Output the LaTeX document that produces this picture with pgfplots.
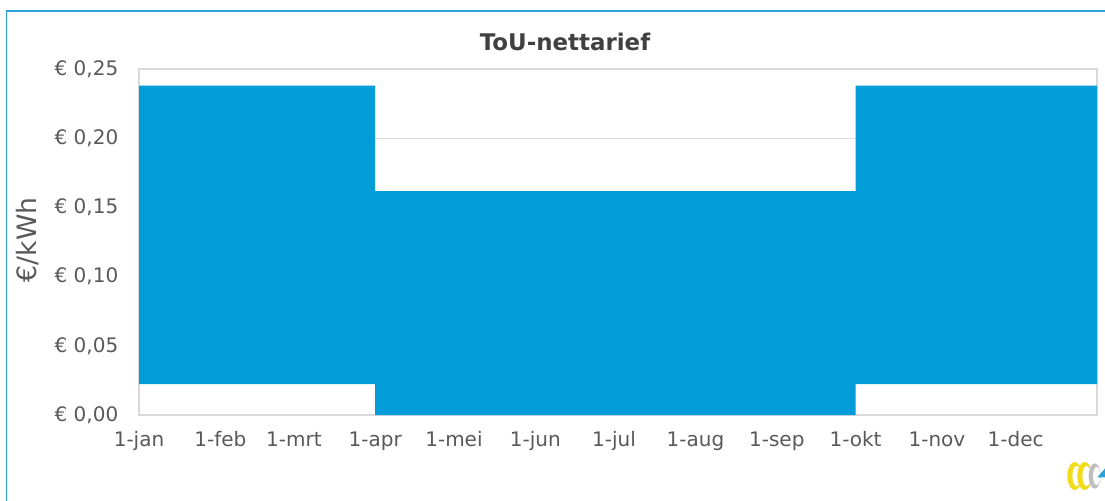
\documentclass[border=0pt]{standalone}
\usepackage{pgfplots}
\pgfplotsset{compat=1.18}
\usepackage{fontspec}
\setmainfont{DejaVu Sans}
\definecolor{barblue}{HTML}{009DD9}
\definecolor{txtgray}{HTML}{595959}
\definecolor{titlegray}{HTML}{404040}
\definecolor{gridgray}{HTML}{D9D9D9}
\definecolor{frameblue}{HTML}{2AA3D6}
\definecolor{logoyellow}{HTML}{F2DC1A}
\definecolor{logogray}{HTML}{BFBFBF}
\begin{document}
\begin{tikzpicture}
\path[use as bounding box] (0,0) rectangle (828.75pt,375pt);
\draw[frameblue, line width=1pt] (4.9pt,-5pt) -- (4.9pt,366.8pt) -- (840pt,366.8pt);
\begin{axis}[
  at={(104.25pt,63.75pt)}, anchor=south west,
  scale only axis, width=718.5pt, height=259.5pt,
  xmin=0, xmax=365, ymin=0, ymax=0.25,
  xtick={0,31,59,90,120,151,181,212,243,273,304,334},
  xticklabels={1-jan,1-feb,1-mrt,1-apr,1-mei,1-jun,1-jul,1-aug,1-sep,1-okt,1-nov,1-dec},
  ytick={0,0.05,0.1,0.15,0.2,0.25},
  yticklabels={{€ 0,00},{€ 0,05},{€ 0,10},{€ 0,15},{€ 0,20},{€ 0,25}},
  major tick length=0pt,
  ymajorgrids, grid style={gridgray, line width=1pt},
  axis line style={gridgray, line width=1pt},
  tick label style={font=\fontsize{15}{18}\selectfont, text=txtgray},
  yticklabel style={xshift=-12pt},
  xticklabel style={yshift=-9pt},
  stack plots=y,
]
% off-peak (lower) level
\addplot[draw=none] coordinates {
  (0,0.0224) (90,0.0224) (90,0) (273,0) (273,0.0224) (365,0.0224)};
% peak minus off-peak
\addplot[fill=barblue, draw=none] coordinates {
  (0,0.2155) (90,0.2155) (90,0.1618) (273,0.1618) (273,0.2155) (365,0.2155)} \closedcycle;
\end{axis}
\node[text=titlegray, font=\fontsize{17.2}{20}\selectfont\bfseries] at (423.75pt,343.5pt) {ToU-nettarief};
\node[text=txtgray, font=\fontsize{20}{24}\selectfont, rotate=90] at (21pt,195pt) {€/kWh};
% logo
\begin{scope}[shift={(806pt,18pt)}]
\fill[logoyellow] (0,0) ellipse (5.5pt and 10.5pt);
\fill[white] (1.5pt,0) ellipse (3.2pt and 7.5pt);
\fill[logoyellow] (7.5pt,0) ellipse (5.5pt and 10.5pt);
\fill[white] (9pt,0) ellipse (3.2pt and 7.5pt);
\fill[logogray] (15pt,0) ellipse (4.5pt and 9.5pt);
\fill[white] (16.5pt,0) ellipse (2.7pt and 6.8pt);
\fill[frameblue] (17pt,-1pt) -- (23pt,-1pt) -- (23pt,6pt) -- cycle;
\end{scope}
\end{tikzpicture}
\end{document}
